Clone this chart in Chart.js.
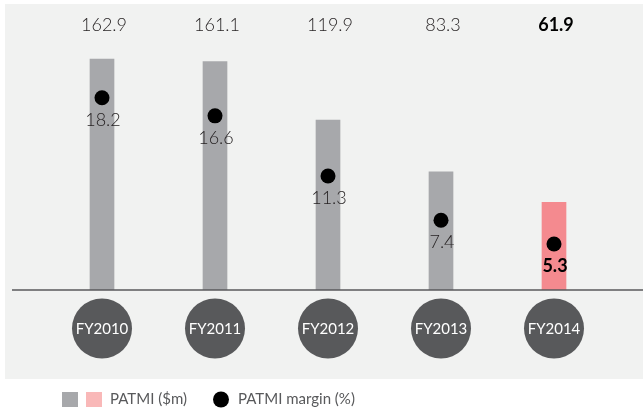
<!DOCTYPE html>
<html>
<head>
<meta charset="utf-8">
<script src="https://cdn.jsdelivr.net/npm/chart.js@4/dist/chart.umd.min.js"></script>
<style>
  html, body { margin: 0; padding: 0; background: #ffffff; }
  canvas { display: block; }
</style>
</head>
<body>
<canvas id="chart" width="643" height="412"></canvas>
<script>
// chart data
const years = ['FY2010', 'FY2011', 'FY2012', 'FY2013', 'FY2014'];
const patmi = [162.9, 161.1, 119.9, 83.3, 61.9];
const margin = [18.2, 16.6, 11.3, 7.4, 5.3];
const barColors = ['#a7a8ab', '#a7a8ab', '#a7a8ab', '#a7a8ab', '#f48a8f'];

const PANEL = '#f1f2f1';
const DARK = '#58595b';
const TEXT = '#231f20';
const FONT = 'Lato, "Open Sans", sans-serif';

// background panel, axis line, year bubbles, value labels and legend
const decorations = {
    id: 'decorations',
    beforeDraw(chart) {
        const ctx = chart.ctx;
        ctx.save();
        ctx.fillStyle = PANEL;
        ctx.fillRect(5, 4, chart.width - 5, 375);
        ctx.restore();
    },
    afterDatasetsDraw(chart) {
        const ctx = chart.ctx;
        const area = chart.chartArea;
        const xScale = chart.scales.x;
        const last = years.length - 1;
        ctx.save();

        // axis line
        ctx.strokeStyle = DARK;
        ctx.lineWidth = 1.5;
        ctx.beginPath();
        ctx.moveTo(12, area.bottom);
        ctx.lineTo(chart.width, area.bottom);
        ctx.stroke();

        // year bubbles
        ctx.textAlign = 'center';
        ctx.textBaseline = 'middle';
        years.forEach((year, i) => {
            const x = xScale.getPixelForTick(i);
            const y = area.bottom + 38.5;
            ctx.fillStyle = DARK;
            ctx.beginPath();
            ctx.arc(x, y, 30, 0, Math.PI * 2);
            ctx.fill();
            ctx.fillStyle = '#ffffff';
            ctx.font = '400 15px ' + FONT;
            ctx.fillText(year, x, y + 1);
        });

        // PATMI values on top
        const bars = chart.getDatasetMeta(0).data;
        bars.forEach((bar, i) => {
            ctx.fillStyle = i === last ? '#000000' : TEXT;
            ctx.font = (i === last ? '700 ' : '300 ') + '18px ' + FONT;
            ctx.fillText(patmi[i].toFixed(1), bar.x + 2, area.top - 15);
        });

        // margin values under the dots
        const dots = chart.getDatasetMeta(1).data;
        dots.forEach((pt, i) => {
            ctx.fillStyle = i === last ? '#000000' : TEXT;
            ctx.font = (i === last ? '700 ' : '300 ') + '18px ' + FONT;
            ctx.fillText(margin[i].toFixed(1), pt.x + 1, pt.y + 22);
        });

        // legend
        const ly = 399.5;
        ctx.fillStyle = '#a7a8ab';
        ctx.fillRect(62, ly - 7.5, 16, 15);
        ctx.fillStyle = '#f9b8b8';
        ctx.fillRect(86, ly - 7.5, 16, 15);
        ctx.fillStyle = DARK;
        ctx.font = '400 15px ' + FONT;
        ctx.textAlign = 'left';
        ctx.fillText('PATMI ($m)', 110, ly);
        ctx.fillStyle = '#000000';
        ctx.beginPath();
        ctx.arc(221, ly, 8, 0, Math.PI * 2);
        ctx.fill();
        ctx.fillStyle = DARK;
        ctx.fillText('PATMI margin (%)', 238, ly);

        ctx.restore();
    }
};

new Chart(document.getElementById('chart'), {
    type: 'bar',
    data: {
        labels: years,
        datasets: [{
            label: 'PATMI ($m)',
            data: patmi,
            backgroundColor: barColors,
            barThickness: 24,
            yAxisID: 'y',
            order: 1
        }, {
            type: 'line',
            label: 'PATMI margin (%)',
            data: margin,
            yAxisID: 'y1',
            showLine: false,
            pointRadius: 7.5,
            pointHoverRadius: 7.5,
            pointBorderWidth: 0,
            pointBackgroundColor: '#000000',
            order: 0
        }]
    },
    options: {
        responsive: false,
        animation: false,
        devicePixelRatio: 1,
        layout: {
            padding: { left: 45.5, right: 32.5, top: 40, bottom: 122 }
        },
        plugins: {
            legend: { display: false },
            tooltip: { enabled: false }
        },
        scales: {
            x: { display: false, offset: true },
            y: { display: false, min: 0, max: 176.3 },
            y1: { display: false, min: 1.243, max: 23.29 }
        }
    },
    plugins: [decorations]
});
</script>
</body>
</html>
